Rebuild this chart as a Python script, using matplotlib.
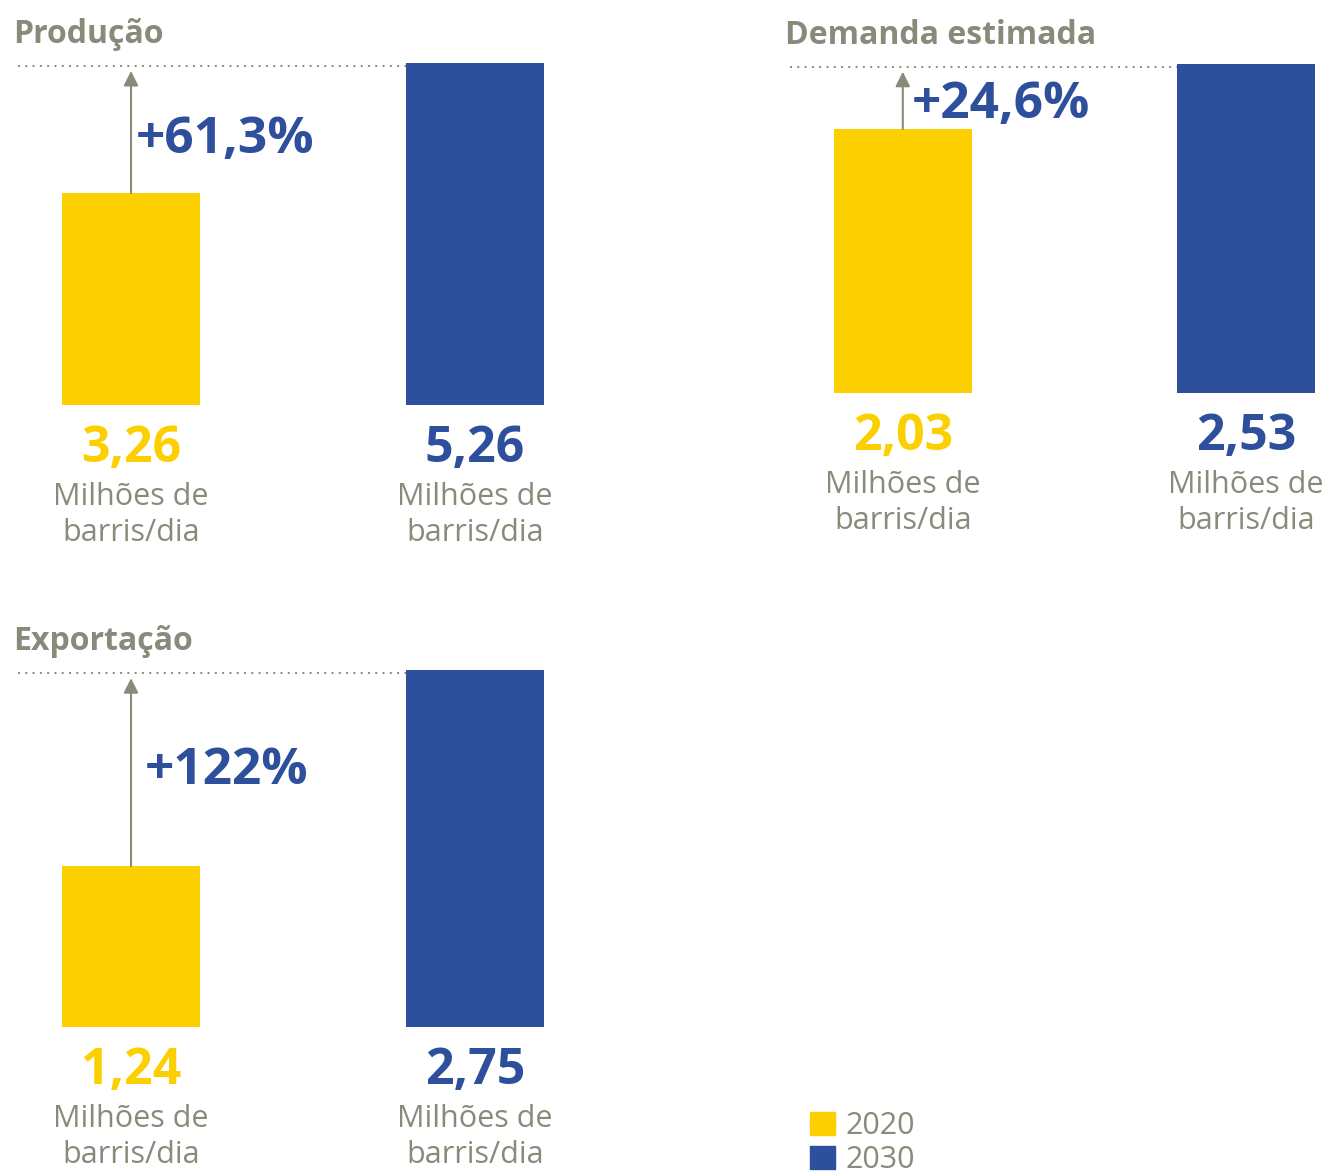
import matplotlib.pyplot as plt
from matplotlib.patches import Patch

# ── Data ───────────────────────────────────────────────────────────────────
panels = ["Produção", "Demanda estimada", "Exportação"]
values_2020 = [3.26, 2.03, 1.24]
values_2030 = [5.26, 2.53, 2.75]
labels_2020 = ["3,26", "2,03", "1,24"]
labels_2030 = ["5,26", "2,53", "2,75"]
growth = ["+61,3%", "+24,6%", "+122%"]
unit = "Milhões de\nbarris/dia"
years = ["2020", "2030"]

# ── Style ──────────────────────────────────────────────────────────────────
YELLOW = "#FCD000"
BLUE = "#2E4F9C"
GRAY = "#8A8A7B"
FONT = "Open Sans"

W, H = 1327, 1173
fig = plt.figure(figsize=(W / 100, H / 100), dpi=100)
fig.patch.set_facecolor("white")

# axes boxes in pixels: left, top, right, bottom
boxes = [(18, 63, 544, 405), (790, 64, 1315, 393), (18, 670, 544, 1027)]
# baseline of the % label as a fraction between the two bar tops, and x offset
growth_pos = [0.31, 0.17, 0.42]
growth_dx = [5, 9, 14]

XL, XR = -0.3285, 1.2006
BW = 0.401

for i, name in enumerate(panels):
    l, t, r, b = boxes[i]
    ax = fig.add_axes([l / W, 1 - b / H, (r - l) / W, (b - t) / H])
    v20, v30 = values_2020[i], values_2030[i]
    ax.bar([0, 1], [v20, v30], width=BW, color=[YELLOW, BLUE])
    ax.set_xlim(XL, XR)
    ax.set_ylim(0, v30)
    ax.axis("off")

    # dotted reference line at the 2030 level
    ax.hlines(v30 * 0.992, XL, 1 - BW / 2, colors=GRAY, linewidth=1.4,
              linestyles=(0, (1, 2.75)), clip_on=False)

    # growth arrow
    ax.annotate("", xy=(0, v30 * 0.985), xytext=(0, v20),
                arrowprops=dict(arrowstyle="-|>", color=GRAY, lw=1.5,
                                mutation_scale=22, shrinkA=0, shrinkB=2),
                annotation_clip=False)
    ax.annotate(growth[i], xy=(0, v20 + growth_pos[i] * (v30 - v20)),
                xytext=(growth_dx[i], 0), textcoords="offset pixels",
                ha="left", va="baseline", fontsize=37, fontweight="bold",
                color=BLUE, family=FONT, annotation_clip=False)

    # panel title
    ax.annotate(name, xy=(0, 1), xycoords="axes fraction",
                xytext=(-5, 20), textcoords="offset pixels",
                ha="left", va="baseline", fontsize=23, fontweight="bold",
                color=GRAY, family=FONT)

    # values and units under the bars
    for x, txt, col in [(0, labels_2020[i], YELLOW), (1, labels_2030[i], BLUE)]:
        ax.annotate(txt, xy=(x, 0), xytext=(0, -57), textcoords="offset pixels",
                    ha="center", va="baseline", fontsize=36, fontweight="bold",
                    color=col, family=FONT, annotation_clip=False)
        ax.annotate(unit, xy=(x, 0), xytext=(0, -110), textcoords="offset pixels",
                    ha="center", va="center", fontsize=22, fontweight="normal",
                    color=GRAY, family=FONT, linespacing=1.3,
                    annotation_clip=False)

leg = fig.legend(handles=[Patch(color=YELLOW), Patch(color=BLUE)], labels=years,
                 loc="upper left", bbox_to_anchor=(798 / W, 1 - 1099 / H),
                 frameon=False, handlelength=0.8, handleheight=0.8,
                 handletextpad=0.35, labelspacing=0.12, borderaxespad=0,
                 prop={"family": FONT, "size": 22})
for txt in leg.get_texts():
    txt.set_color(GRAY)

fig.savefig("out.png", dpi=100)
